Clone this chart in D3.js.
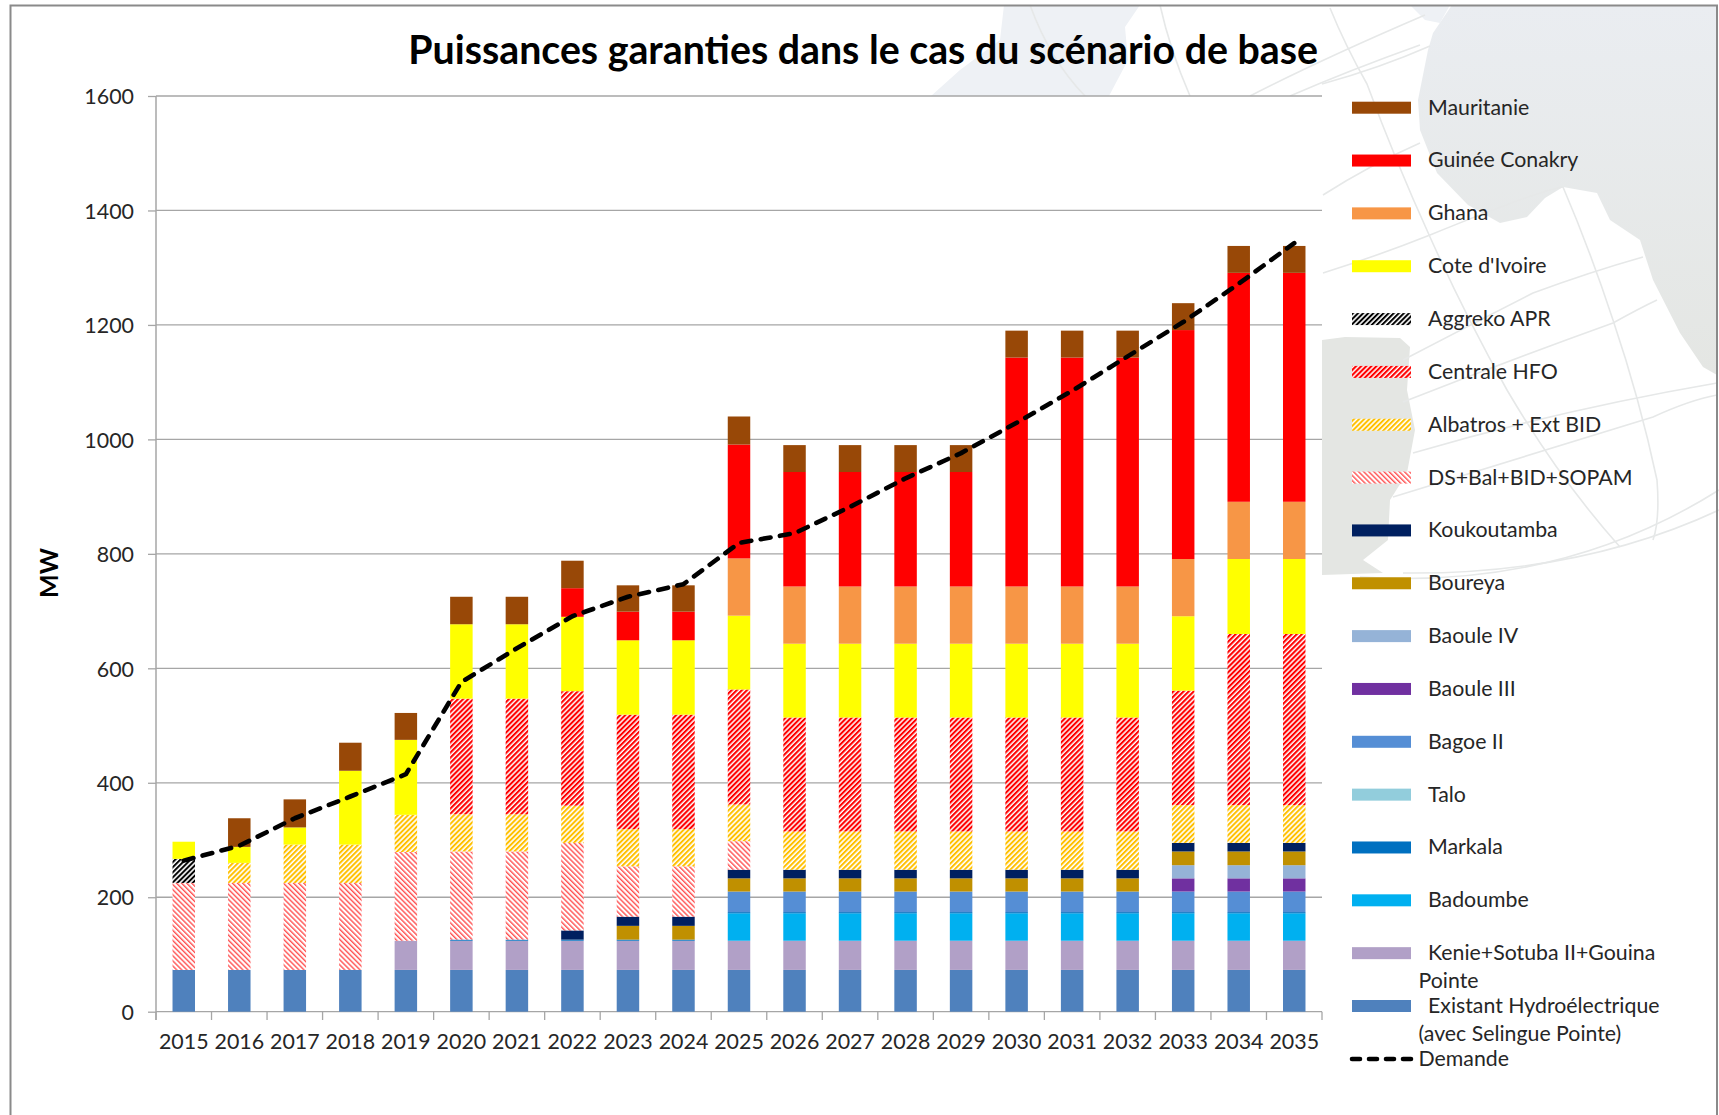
<!DOCTYPE html>
<html><head><meta charset="utf-8">
<script src="https://cdn.jsdelivr.net/npm/d3@7/dist/d3.min.js"></script>
<style>html,body{margin:0;padding:0;background:#fff}svg{display:block}text{font-family:Lato,"Open Sans",sans-serif}</style>
</head><body><svg id="c" width="1719" height="1115"></svg>
<script>
const years=["2015","2016","2017","2018","2019","2020","2021","2022","2023","2024","2025","2026","2027","2028","2029","2030","2031","2032","2033","2034","2035"];
const existant=[73,73,73,73,73,73,73,73,73,73,73,73,73,73,73,73,73,73,73,73,73];
const kenie=[0,0,0,0,51,51,51,51,51,51,51,51,51,51,51,51,51,51,51,51,51];
const badoumbe=[0,0,0,0,0,0,0,0,0,0,48,48,48,48,48,48,48,48,48,48,48];
const markala=[0,0,0,0,0,2,2,2,2,2,2,2,2,2,2,2,2,2,2,2,2];
const talo=[0,0,0,0,0,0,0,0,0,0,0,0,0,0,0,0,0,0,0,0,0];
const bagoe=[0,0,0,0,0,0,0,0,0,0,36,36,36,36,36,36,36,36,36,36,36];
const baoule3=[0,0,0,0,0,0,0,0,0,0,0,0,0,0,0,0,0,0,23,23,23];
const baoule4=[0,0,0,0,0,0,0,0,0,0,0,0,0,0,0,0,0,0,23,23,23];
const boureya=[0,0,0,0,0,0,0,0,24,24,23,23,23,23,23,23,23,23,24,24,24];
const koukou=[0,0,0,0,0,0,0,16,16,16,15,15,15,15,15,15,15,15,15,15,15];
const dsbal=[152,152,152,152,155,154,154,153,88,88,50,0,0,0,0,0,0,0,0,0,0];
const albatros=[0,35,67,67,65,65,65,65,65,65,64,67,67,67,67,67,67,67,66,66,66];
const hfo=[0,0,0,0,0,202,202,200,200,200,201,199,199,199,199,199,199,199,200,299,299];
const aggreko=[42,0,0,0,0,0,0,0,0,0,0,0,0,0,0,0,0,0,0,0,0];
const cote=[30,28,30,129,131,130,130,130,130,130,129,129,129,129,129,129,129,129,130,131,131];
const ghana=[0,0,0,0,0,0,0,0,0,0,100,100,100,100,100,100,100,100,100,100,100];
const guinee=[0,0,0,0,0,0,0,50,50,50,199,200,200,200,200,400,400,400,400,400,400];
const mauritanie=[0,50,49,49,47,48,48,48,46,46,49,47,47,47,47,47,47,47,47,47,47];
const demande=[264,290,338,376,415,576,635,691,725,747,819,836,882,932,976,1029,1085,1145,1205,1272,1343];
const yTicks=[0,200,400,600,800,1000,1200,1400,1600];

// stacking order, bottom to top
const seriesNames=["Existant Hydroélectrique","Kenie+Sotuba II+Gouina","Badoumbe","Markala","Talo","Bagoe II","Baoule III","Baoule IV","Boureya","Koukoutamba","DS+Bal+BID+SOPAM","Albatros + Ext BID","Centrale HFO","Aggreko APR","Cote d'Ivoire","Ghana","Guinée Conakry","Mauritanie"];
const seriesValues=[existant,kenie,badoumbe,markala,talo,bagoe,baoule3,baoule4,boureya,koukou,dsbal,albatros,hfo,aggreko,cote,ghana,guinee,mauritanie];
const seriesFills=["#4f81bd","#b1a0c7","#00b0f0","#0070c0","#92cddc","#558ed5","#7030a0","#95b3d7","#c09000","#002060","url(#pDS)","url(#pAlb)","url(#pHFO)","url(#pAgg)","#ffff00","#f79646","#ff0000","#984807"];

const svg=d3.select("#c");
const defs=svg.append("defs");
function hatch(id,color,w,angle){
  const p=defs.append("pattern").attr("id",id).attr("patternUnits","userSpaceOnUse").attr("width",3.6).attr("height",3.6).attr("patternTransform",`rotate(${angle})`);
  p.append("rect").attr("width",3.6).attr("height",3.6).attr("fill","#fff");
  p.append("rect").attr("width",w).attr("height",3.6).attr("fill",color);
}
hatch("pHFO","#ff0000",2.1,45);
hatch("pAlb","#ffc000",2.0,45);
hatch("pDS","#ff5050",1.4,-45);
hatch("pAgg","#000000",2.0,45);
const landGrad=defs.append("linearGradient").attr("id","land").attr("x1",0).attr("y1",0).attr("x2",0).attr("y2",1);
landGrad.append("stop").attr("offset",0).attr("stop-color","#eaedf1");
landGrad.append("stop").attr("offset",1).attr("stop-color","#e4e6e3");

// background map decoration
const bg=svg.append("g");
bg.append("path").attr("fill","url(#land)").attr("d","M1452 5 L1433 33 L1428 50 L1418 100 L1420 130 L1437 173 L1468 205 L1500 223 L1527 217 L1545 198 L1563 187 L1597 193 L1610 220 L1640 240 L1653 280 L1680 333 L1703 367 L1717 375 L1717 5 Z");
bg.append("path").attr("fill","#e4e6e3").attr("d","M1322 340 L1345 337 L1400 338 L1410 347 L1407 390 L1415 430 L1407 473 L1390 500 L1388 540 L1363 560 L1383 573 L1322 575 Z");
bg.append("path").attr("fill","#eef1f5").attr("d","M1004 5 L1140 5 L1125 27 L1128 60 L1109 96 L931 96 L960 70 L1000 40 Z");
bg.append("path").attr("fill","#eef1f5").attr("d","M1410 5 L1450 5 L1440 23 L1425 20 Z");
const gl=bg.append("g").attr("fill","none").attr("stroke","#e6e8e8").attr("stroke-width",1.6);
["M1330 8 Q1345 45 1367 84 Q1395 160 1430 237 Q1465 315 1507 390 Q1560 480 1620 547",
 "M1563 187 Q1590 250 1613 320 Q1640 400 1657 480 Q1660 520 1653 540",
 "M1323 195 Q1370 165 1420 143",
 "M1322 84 Q1380 68 1430 46",
 "M1323 273 Q1380 255 1430 235 Q1540 190 1563 187",
 "M1403 360 Q1470 325 1533 293 Q1590 272 1643 257",
 "M1403 402 Q1510 360 1613 323 Q1640 308 1657 300",
 "M1413 453 Q1560 410 1717 383",
 "M1393 497 Q1530 455 1653 417 Q1690 400 1717 395",
 "M1403 573 Q1580 575 1719 510",
 "M1360 577 Q1560 590 1719 490",
 "M1085 96 Q1050 60 1030 5","M1190 96 Q1170 50 1160 5",
 "M1250 96 Q1320 60 1425 15","M1290 96 Q1350 70 1420 45"
].forEach(d=>gl.append("path").attr("d",d));
bg.append("rect").attr("x",156).attr("y",96).attr("width",1166).attr("height",1019).attr("fill","#fff");

// frame
svg.append("path").attr("d","M10.5 1115 V5.5 H1717 V1115").attr("fill","none").attr("stroke","#8a8a8a").attr("stroke-width",2);

const x=d3.scaleBand().domain(years).range([156,1322]).paddingInner(0.595).paddingOuter(0.2975);
const y=d3.scaleLinear().domain([0,1600]).range([1011.7,96]);

// gridlines + axes
const yAxis=svg.append("g").attr("transform","translate(156,0)").call(d3.axisLeft(y).tickValues(yTicks).tickFormat(d3.format("d")).tickSize(8).tickPadding(14).tickSizeOuter(0));
yAxis.select(".domain").remove();
yAxis.selectAll("line").attr("stroke","#a6a6a6").attr("stroke-width",1.3);
yAxis.selectAll("text").attr("fill","#262626").style("font-size","21.4px").attr("dy","0.36em");
svg.append("g").selectAll("line").data(yTicks).join("line").attr("x1",156).attr("x2",1322).attr("y1",d=>y(d)).attr("y2",d=>y(d)).attr("stroke","#a6a6a6").attr("stroke-width",1.3);

const xAxis=svg.append("g").attr("transform","translate(0,1011.7)").call(d3.axisBottom(x).tickSize(0).tickPadding(22));
xAxis.select(".domain").remove();
xAxis.selectAll("text").attr("fill","#262626").style("font-size","21.4px");
const edges=years.map((d,i)=>156+i*x.step()).concat([1322]);
svg.append("g").selectAll("line").data(edges).join("line").attr("x1",d=>d).attr("x2",d=>d).attr("y1",1011.7).attr("y2",1020).attr("stroke","#a6a6a6").attr("stroke-width",1.3);
svg.append("line").attr("x1",156).attr("x2",156).attr("y1",96).attr("y2",1020).attr("stroke","#a6a6a6").attr("stroke-width",1.5);

// stacked bars
const rows=years.map((yr,i)=>{const r={year:yr};seriesNames.forEach((n,k)=>r[n]=seriesValues[k][i]);return r;});
const stacked=d3.stack().keys(seriesNames)(rows);
svg.append("g").selectAll("g").data(stacked).join("g").attr("fill",(d,i)=>seriesFills[i])
 .selectAll("rect").data(d=>d.filter(s=>s[1]>s[0])).join("rect")
 .attr("x",d=>x(d.data.year)).attr("width",x.bandwidth()).attr("y",d=>y(d[1])).attr("height",d=>y(d[0])-y(d[1]));

// demand
const lineGen=d3.line().x((d,i)=>x(years[i])+x.bandwidth()/2).y(d=>y(d)).curve(d3.curveLinear);
svg.append("path").datum(demande).attr("d",lineGen).attr("fill","none").attr("stroke","#000").attr("stroke-width",4.6).attr("stroke-dasharray","10 9.5").attr("stroke-linecap","round").attr("stroke-linejoin","round");

// legend (top to bottom is reverse stacking)
const legendRows=seriesNames.map((n,i)=>({n,f:seriesFills[i]})).reverse();
const legY=d3.scaleLinear().domain([0,17]).range([107.7,1006]);
const lg=svg.append("g");
lg.selectAll("rect").data(legendRows).join("rect").attr("x",1352).attr("width",59).attr("height",12).attr("y",(d,i)=>legY(i)-6).attr("fill",d=>d.f);
lg.selectAll("text.l").data(legendRows).join("text").attr("class","l").attr("x",1428).attr("y",(d,i)=>legY(i)-0.5).attr("dy","0.35em").text(d=>d.n);
const extra=[["Pointe",1418.5,980.5],["(avec Selingue Pointe)",1418.5,1034],["Demande",1418.5,1058.5]];
lg.selectAll("text.e").data(extra).join("text").attr("class","e").attr("x",d=>d[1]).attr("y",d=>d[2]).attr("dy","0.35em").text(d=>d[0]);
lg.selectAll("text").attr("fill","#262626").style("font-size","21.3px");
lg.append("line").attr("x1",1352).attr("x2",1413).attr("y1",1059).attr("y2",1059).attr("stroke","#000").attr("stroke-width",4.6).attr("stroke-dasharray","8 9").attr("stroke-linecap","round");

// titles
svg.append("text").attr("x",1318).attr("y",50).attr("dy","0.35em").attr("text-anchor","end").attr("font-weight",700).attr("fill","#000").style("font-size","39.3px").text("Puissances garanties dans le cas du scénario de base");
svg.append("text").attr("transform","translate(58,573) rotate(-90)").attr("text-anchor","middle").attr("font-weight",700).attr("fill","#000").style("font-size","25px").text("MW");
</script></body></html>
